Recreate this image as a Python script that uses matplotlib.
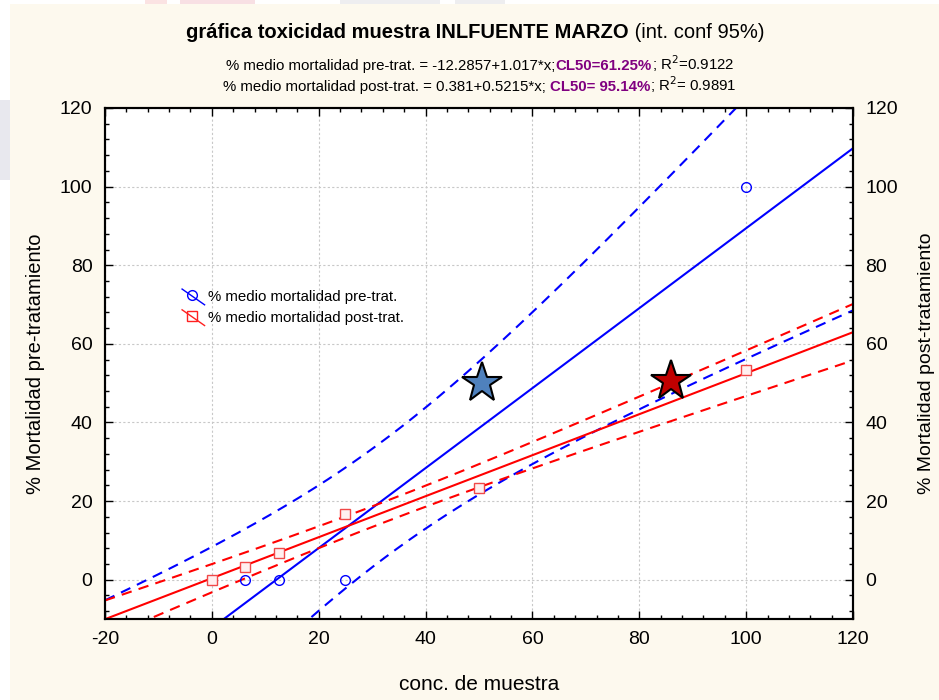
import numpy as np
import matplotlib
matplotlib.use("Agg")
import matplotlib.pyplot as plt
from matplotlib.lines import Line2D
from matplotlib.legend_handler import HandlerBase
from matplotlib.patches import Rectangle
from matplotlib.ticker import MultipleLocator

plt.rcParams["font.family"] = ["Liberation Sans", "DejaVu Sans"]
plt.rcParams["axes.unicode_minus"] = False

# ── Data ───────────────────────────────────────────────────────────────────────
conc      = [0, 6.25, 12.5, 25, 50, 100]
pre_mort  = [0, 0, 0, 0, 23.33, 100]
post_mort = [0, 3.33, 6.67, 16.67, 23.33, 53.33]
star_pre  = (50.5, 50)
star_post = (86, 50.5)
t_crit    = 2.776   # t(0.975, df=4)

title_bold = "gráfica toxicidad muestra INLFUENTE MARZO"
title_norm = " (int. conf 95%)"
sub_pre  = ["% medio mortalidad pre-trat. = -12.2857+1.017*x;", "CL50=61.25%", "; R$^2$=0.9122"]
sub_post = ["% medio mortalidad post-trat. = 0.381+0.5215*x; ", "CL50= 95.14%", "; R$^2$= 0.9891"]

BLUE = "#0000ff"
RED = "#ff0000"
PURPLE = "#800080"


def fit_band(x, y, xs):
    x = np.asarray(x, float)
    y = np.asarray(y, float)
    b, a = np.polyfit(x, y, 1)
    res = y - (a + b * x)
    s = np.sqrt(np.sum(res ** 2) / (len(x) - 2))
    sxx = np.sum((x - x.mean()) ** 2)
    se = s * np.sqrt(1 / len(x) + (xs - x.mean()) ** 2 / sxx)
    yh = a + b * xs
    return yh, yh - t_crit * se, yh + t_crit * se


class DiagHandler(HandlerBase):
    def create_artists(self, legend, orig, xd, yd, w, h, fontsize, trans):
        ln = Line2D([xd, xd + w], [yd + h * 1.15, yd - h * 0.35],
                    color=orig.get_color(), lw=1.0, transform=trans)
        mk = Line2D([xd + w * 0.45], [yd + h * 0.55], marker=orig.get_marker(),
                    ms=7, mfc="none", mec=orig.get_color(), mew=1.0,
                    linestyle="none", transform=trans)
        return [ln, mk]


fig = plt.figure(figsize=(9.39, 7.0), dpi=100)
fig.patch.set_facecolor("white")
# cream page + faint watermark at the border
fig.patches.append(Rectangle((10 / 939, 0), 1, 1 - 4 / 700, transform=fig.transFigure,
                             facecolor="#fdf9ee", edgecolor="none", zorder=-2))
for (x0, y0, w, h, c) in [(0, 520, 10, 80, "#e8e8ee"),
                          (145, 696, 22, 4, "#fbe3e3"), (180, 696, 75, 4, "#f8e0e4"),
                          (340, 696, 100, 4, "#eeeef0"), (455, 696, 50, 4, "#eeeef0")]:
    fig.patches.append(Rectangle((x0 / 939, y0 / 700), w / 939, h / 700,
                                 transform=fig.transFigure, facecolor=c,
                                 edgecolor="none", zorder=-2))

ax = fig.add_axes([105 / 939, 81 / 700, 748 / 939, 511 / 700])
ax.set_xlim(-20, 120)
ax.set_ylim(-10, 120)

xs = np.linspace(-20, 120, 300)
yh, lo, hi = fit_band(conc, pre_mort, xs)
ax.plot(xs, yh, color=BLUE, lw=1.5, zorder=3)
ax.plot(xs, lo, color=BLUE, lw=1.5, ls=(0, (5, 3.5)), zorder=3)
ax.plot(xs, hi, color=BLUE, lw=1.5, ls=(0, (5, 3.5)), zorder=3)

yh2, lo2, hi2 = fit_band(conc, post_mort, xs)
ax.plot(xs, yh2, color=RED, lw=1.5, zorder=3)
ax.plot(xs, lo2, color=RED, lw=1.5, ls=(0, (5, 3.5)), zorder=3)
ax.plot(xs, hi2, color=RED, lw=1.5, ls=(0, (5, 3.5)), zorder=3)

ax.plot(conc, pre_mort, "o", ms=7, mfc="none", mec=BLUE, mew=1.0, zorder=4)
ax.plot(conc, post_mort, "s", ms=7, mfc="#fff0f0", mec="#f04848", mew=1.0, zorder=4)

ax.plot(*star_pre, marker="*", ms=30, mfc="#4f81bd", mec="black", mew=1.5, zorder=5)
ax.plot(*star_post, marker="*", ms=30, mfc="#c00000", mec="black", mew=1.5, zorder=5)

ax.xaxis.set_major_locator(MultipleLocator(20))
ax.xaxis.set_minor_locator(MultipleLocator(4))
ax.yaxis.set_major_locator(MultipleLocator(20))
ax.yaxis.set_minor_locator(MultipleLocator(4))
ax.set_yticks(np.arange(0, 121, 20))
ax.grid(True, which="major", color="#c8c8c8", ls=(0, (2, 2)), lw=0.8)
ax.tick_params(which="both", direction="in", top=True, right=False, labelsize=14)
ax.tick_params(which="major", length=6, width=1)
ax.tick_params(which="minor", length=3, width=1)
ax.tick_params(axis="x", which="major", pad=9)
ax.tick_params(axis="y", which="major", pad=9)
for sp in ax.spines.values():
    sp.set_linewidth(1.5)
ax.set_xlabel("conc. de muestra", fontsize=15, labelpad=19)
ax.set_ylabel("% Mortalidad pre-tratamiento", fontsize=14.5, labelpad=11)

ax2 = ax.twinx()
ax2.set_ylim(-10, 120)
ax2.set_yticks(np.arange(0, 121, 20))
ax2.yaxis.set_minor_locator(MultipleLocator(4))
ax2.tick_params(which="both", direction="in", labelsize=14)
ax2.tick_params(which="major", length=6, width=1, pad=9)
ax2.tick_params(which="minor", length=3, width=1)
ax2.set_ylabel("% Mortalidad post-tratamiento", fontsize=14, labelpad=14)
for sp in ax2.spines.values():
    sp.set_linewidth(1.5)

h_pre = Line2D([], [], color=BLUE, marker="o")
h_post = Line2D([], [], color="#ff2020", marker="s")
ax.legend([h_pre, h_post], ["% medio mortalidad pre-trat.", "% medio mortalidad post-trat."],
          handler_map={Line2D: DiagHandler()}, loc="upper left",
          bbox_to_anchor=(0.085, 0.67), frameon=False, fontsize=10.8,
          handlelength=1.5, handletextpad=0.25, labelspacing=0.45)

# ── Titles ─────────────────────────────────────────────────────────────────────
renderer = fig.canvas.get_renderer()


def centered_pieces(pieces, y, xc):
    texts = []
    for s, kw in pieces:
        texts.append(fig.text(0, y, s, va="baseline", ha="left", **kw))
    widths = [t.get_window_extent(renderer).width for t in texts]
    x = xc - sum(widths) / 2
    for t, w in zip(texts, widths):
        t.set_x(x / 939)
        x += w


centered_pieces([(title_bold, dict(fontsize=14.5, fontweight="bold")),
                 (title_norm, dict(fontsize=14.5))], 1 - 38 / 700, 475)
for lines, yy in [(sub_pre, 70), (sub_post, 91)]:
    centered_pieces([(lines[0], dict(fontsize=10.8)),
                     (lines[1], dict(fontsize=10.8, fontweight="bold", color=PURPLE)),
                     (lines[2], dict(fontsize=10.8))], 1 - yy / 700, 480)

fig.savefig("out.png", dpi=100, facecolor=fig.get_facecolor())
